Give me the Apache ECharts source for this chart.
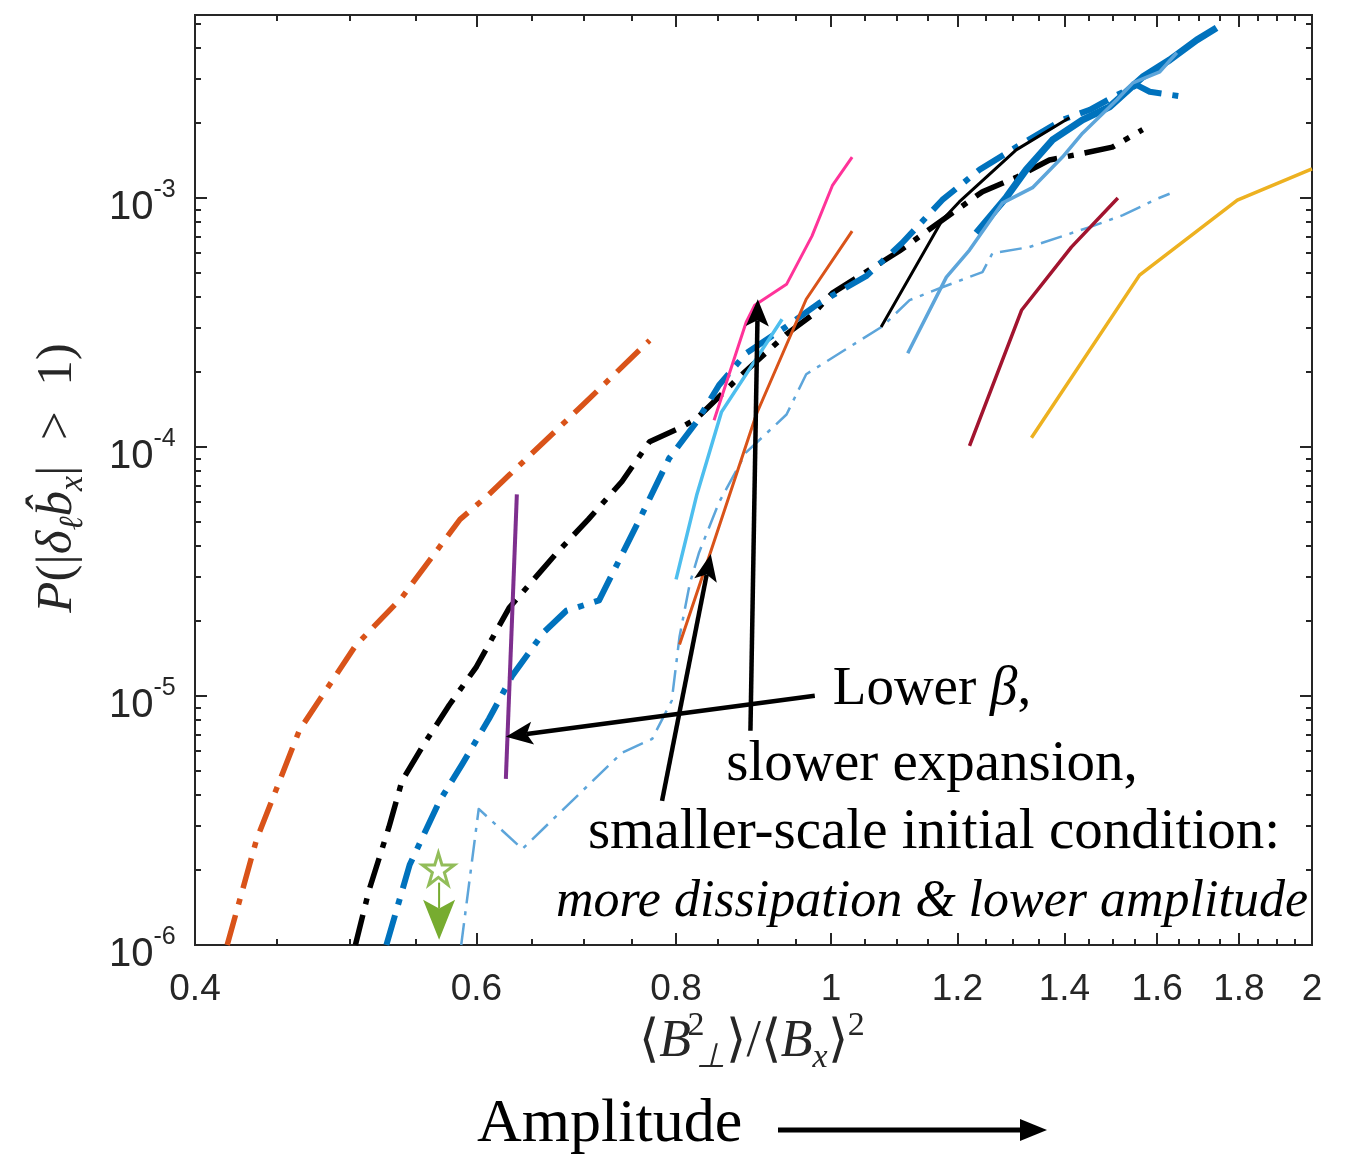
<!DOCTYPE html>
<html><head><meta charset="utf-8">
<script src="https://cdn.jsdelivr.net/npm/echarts@6/dist/echarts.min.js"></script>
<style>html,body{margin:0;padding:0;background:#fff}#c{width:1356px;height:1154px}</style>
</head><body><div id="c"></div>
<script>
// ---- tick values ----
const xMajorTicks = [0.4, 0.6, 0.8, 1, 1.2, 1.4, 1.6, 1.8, 2];
const xMinorTicks = [0.45, 0.5, 0.55, 0.65, 0.7, 0.75, 0.85, 0.9, 0.95, 1.05, 1.1, 1.15, 1.25, 1.3, 1.35, 1.45, 1.5, 1.55, 1.65, 1.7, 1.75, 1.85, 1.9, 1.95];
const yMajorTicks = [1e-6, 1e-5, 1e-4, 1e-3];
const yMinorTicks = [2e-6,3e-6,4e-6,5e-6,6e-6,7e-6,8e-6,9e-6, 2e-5,3e-5,4e-5,5e-5,6e-5,7e-5,8e-5,9e-5, 2e-4,3e-4,4e-4,5e-4,6e-4,7e-4,8e-4,9e-4, 2e-3,3e-3,4e-3,5e-3];

// ---- series values ----
const orangeDashDotX = [0.419, 0.437, 0.465, 0.504, 0.539, 0.586, 0.611, 0.629, 0.699, 0.770];
const orangeDashDotY = [1.0e-6, 2.64e-6, 7.3e-6, 1.59e-5, 2.49e-5, 5.12e-5, 6.45e-5, 7.71e-5, 1.47e-4, 2.68e-4];

const blackDashDotX = [0.504, 0.514, 0.529, 0.539, 0.555, 0.577, 0.600, 0.629, 0.673, 0.705, 0.740, 0.770, 0.804, 0.824, 0.877, 0.938, 0.973, 1.002, 1.042, 1.103, 1.181, 1.244, 1.306, 1.370, 1.437, 1.500, 1.567];
const blackDashDotY = [1.0e-6, 1.66e-6, 2.98e-6, 4.56e-6, 6.25e-6, 9.2e-6, 1.31e-5, 2.26e-5, 3.73e-5, 5.12e-5, 7.27e-5, 1.05e-4, 1.19e-4, 1.30e-4, 1.92e-4, 2.84e-4, 3.38e-4, 4.15e-4, 4.86e-4, 6.11e-4, 8.37e-4, 1.06e-3, 1.21e-3, 1.42e-3, 1.51e-3, 1.60e-3, 1.88e-3];

const blueDashDotX = [0.527, 0.545, 0.569, 0.588, 0.611, 0.632, 0.661, 0.683, 0.716, 0.759, 0.792, 0.824, 0.851, 0.885, 0.938, 0.983, 1.052, 1.108, 1.174, 1.239, 1.306, 1.396, 1.452, 1.510, 1.554, 1.583, 1.661];
const blueDashDotY = [1.0e-6, 2.10e-6, 3.79e-6, 5.34e-6, 8.1e-6, 1.21e-5, 1.80e-5, 2.20e-5, 2.42e-5, 5.12e-5, 9.0e-5, 1.26e-4, 1.77e-4, 2.38e-4, 3.05e-4, 3.78e-4, 4.85e-4, 6.59e-4, 9.82e-4, 1.30e-3, 1.60e-3, 2.06e-3, 2.26e-3, 2.59e-3, 2.84e-3, 2.67e-3, 2.55e-3];

const purpleX = [0.636, 0.626];
const purpleY = [6.45e-5, 4.65e-6];

const lightBlueDashDotX = [0.587, 0.602, 0.641, 0.740, 0.773, 0.795, 0.804, 0.816, 0.827, 0.851, 0.885, 0.938, 0.965, 1.077, 1.120, 1.174, 1.244, 1.262, 1.331, 1.452, 1.523, 1.599, 1.629];
const lightBlueDashDotY = [1.0e-6, 3.52e-6, 2.43e-6, 5.92e-6, 6.73e-6, 9.57e-6, 1.73e-5, 2.83e-5, 3.77e-5, 5.98e-5, 9.51e-5, 1.35e-4, 1.96e-4, 3.05e-4, 3.89e-4, 4.38e-4, 5.04e-4, 6.0e-4, 6.35e-4, 7.64e-4, 8.53e-4, 9.91e-4, 1.04e-3];

const cyanX = [0.800, 0.824, 0.854, 0.932];
const cyanY = [2.94e-5, 6.38e-5, 1.38e-4, 3.26e-4];

const pinkX = [0.845, 0.885, 0.896, 0.938, 0.973, 1.002, 1.031];
const pinkY = [1.28e-4, 3.17e-4, 3.71e-4, 4.50e-4, 7.03e-4, 1.12e-3, 1.46e-3];

const orangeSolidX = [0.804, 0.839, 0.898, 0.965, 1.031];
const orangeSolidY = [1.61e-5, 3.63e-5, 1.35e-4, 3.92e-4, 7.36e-4];

const blackSolidX = [1.075, 1.174, 1.203, 1.306, 1.410];
const blackSolidY = [3.03e-4, 8.15e-4, 9.64e-4, 1.56e-3, 2.10e-3];

const steelBlueX = [1.117, 1.181, 1.221, 1.280, 1.337, 1.396, 1.437, 1.510, 1.545, 1.606, 1.646];
const steelBlueY = [2.38e-4, 4.81e-4, 6.18e-4, 9.53e-4, 1.10e-3, 1.46e-3, 1.82e-3, 2.48e-3, 2.90e-3, 3.21e-3, 3.83e-3];

const blueSolidX = [1.233, 1.288, 1.325, 1.376, 1.437, 1.494, 1.567, 1.629, 1.694, 1.743];
const blueSolidY = [7.23e-4, 1.01e-3, 1.30e-3, 1.71e-3, 2.06e-3, 2.32e-3, 3.06e-3, 3.58e-3, 4.31e-3, 4.82e-3];

const darkRedX = [1.221, 1.316, 1.414, 1.512];
const darkRedY = [1.01e-4, 3.54e-4, 6.35e-4, 1.0e-3];

const yellowX = [1.335, 1.560, 1.796, 2.0];
const yellowY = [1.09e-4, 4.90e-4, 9.80e-4, 1.31e-3];

const starPoint = [0.568, 2.02e-6];
const starArrow = [[0.5686, 1.78e-6, 0.5686, 1.05e-6]];

// annotation arrows, in data units: [fromX, fromY, toX, toY]
const annotationArrows = [
  [0.977, 1.003e-5, 0.626, 6.86e-6],
  [0.784, 3.79e-6, 0.841, 3.72e-5],
  [0.8905, 7.25e-6, 0.900, 3.92e-4]
];

const annotationLines = ['Lower ', 'slower expansion,', 'smaller-scale initial condition:', 'more dissipation & lower amplitude'];

// ---- build chart ----
const AX = '#262626';
const chart = echarts.init(document.getElementById('c'), null, { renderer: 'canvas' });
function pts(xs, ys) { return xs.map((x, i) => [x, ys[i]]); }
function lineSeries(name, xs, ys, color, width, dash, z) {
  return { name, type: 'line', data: pts(xs, ys), showSymbol: false, symbol: 'none', silent: true,
    animation: false, z: z || 2, clip: true,
    lineStyle: { color, width, type: dash || 'solid', cap: 'butt', join: 'round' } };
}
function xAx(pos, ticks, len, labels) {
  return { type: 'log', logBase: 10, min: 0.4, max: 2, position: pos, gridIndex: 0,
    axisLine: { show: true, onZero: false, lineStyle: { color: AX, width: 2 } },
    axisTick: { show: true, inside: true, length: len, customValues: ticks, lineStyle: { color: AX, width: 2 } },
    axisLabel: labels ? { show: true, customValues: ticks, formatter: v => String(+(+v).toFixed(2)),
      fontSize: 37, fontFamily: 'Liberation Sans', color: AX, margin: 26 } : { show: false },
    splitLine: { show: false }, minorTick: { show: false }, minorSplitLine: { show: false } };
}
function yAx(pos, ticks, len, labels) {
  return { type: 'log', logBase: 10, min: 1e-6, max: 5.43e-3, position: pos, gridIndex: 0,
    axisLine: { show: true, onZero: false, lineStyle: { color: AX, width: 2 } },
    axisTick: { show: true, inside: true, length: len, customValues: ticks, lineStyle: { color: AX, width: 2 } },
    axisLabel: labels ? { show: true, customValues: ticks, margin: 19, color: AX, fontFamily: 'Liberation Sans',
      formatter: v => '{b|10}{s|' + Math.round(Math.log10(v)) + '}{sp| }',
      rich: {
        b: { fontSize: 40, height: 40, lineHeight: 40, verticalAlign: 'bottom', fontFamily: 'Liberation Sans', color: AX },
        s: { fontSize: 25, height: 44, lineHeight: 44, verticalAlign: 'top', fontFamily: 'Liberation Sans', color: AX },
        sp: { fontSize: 1, lineHeight: 60 }
      } } : { show: false },
    splitLine: { show: false }, minorTick: { show: false }, minorSplitLine: { show: false } };
}

function arrowShape(api, L, W, lw, color) {
  const p1 = api.coord([api.value(0), api.value(1)]);
  const p2 = api.coord([api.value(2), api.value(3)]);
  const dx = p2[0] - p1[0], dy = p2[1] - p1[1];
  const len = Math.hypot(dx, dy) || 1;
  const ux = dx / len, uy = dy / len, nx = -uy, ny = ux;
  const bx = p2[0] - ux * L, by = p2[1] - uy * L;
  const notch = [p2[0] - ux * L * 0.78, p2[1] - uy * L * 0.78];
  return { type: 'group', children: [
    { type: 'line', shape: { x1: p1[0], y1: p1[1], x2: notch[0], y2: notch[1] }, style: { stroke: color, lineWidth: lw } },
    { type: 'polygon', shape: { points: [p2, [bx + nx * W, by + ny * W], notch, [bx - nx * W, by - ny * W]] }, style: { fill: color } }
  ] };
}

const dd = [31, 11, 6, 11];
const option = {
  backgroundColor: '#ffffff',
  animation: false,
  grid: { left: 195, right: 44, top: 15, bottom: 209, outerBoundsMode: 'none', containLabel: false },
  xAxis: [xAx('bottom', xMajorTicks, 12, true), xAx('bottom', xMinorTicks, 6, false),
          xAx('top', xMajorTicks, 12, false), xAx('top', xMinorTicks, 6, false)],
  yAxis: [yAx('left', yMajorTicks, 12, true), yAx('left', yMinorTicks, 6, false),
          yAx('right', yMajorTicks, 12, false), yAx('right', yMinorTicks, 6, false)],
  series: [
    lineSeries('lightblue-dd', lightBlueDashDotX, lightBlueDashDotY, '#5DA5DA', 2.5, [22, 8, 4, 8]),
    lineSeries('yellow', yellowX, yellowY, '#EDB120', 3.5),
    lineSeries('darkred', darkRedX, darkRedY, '#A2142F', 3.5),
    lineSeries('orange-dd', orangeDashDotX, orangeDashDotY, '#D95319', 5.5, dd),
    lineSeries('black-dd', blackDashDotX, blackDashDotY, '#000000', 5.5, dd),
    lineSeries('blue-dd', blueDashDotX, blueDashDotY, '#0072BD', 6, dd),
    lineSeries('cyan', cyanX, cyanY, '#4DBEEE', 3.5),
    lineSeries('orange', orangeSolidX, orangeSolidY, '#D95319', 3),
    lineSeries('pink', pinkX, pinkY, '#FF3399', 3),
    lineSeries('blue', blueSolidX, blueSolidY, '#0072BD', 7),
    lineSeries('steelblue', steelBlueX, steelBlueY, '#5DA5DA', 3.5),
    lineSeries('black', blackSolidX, blackSolidY, '#000000', 3),
    lineSeries('purple', purpleX, purpleY, '#7E2F8E', 4),
    { type: 'scatter', data: [starPoint], symbol: 'path://M50,2 L61,37 L98,37 L68,59 L79,95 L50,73 L21,95 L32,59 L2,37 L39,37 Z',
      symbolSize: 32, silent: true, animation: false, z: 10,
      itemStyle: { color: '#ffffff', borderColor: '#77AC30', borderWidth: 3 } },
    { type: 'custom', coordinateSystem: 'cartesian2d', clip: false, silent: true, animation: false, z: 10,
      data: starArrow, encode: { x: [0, 2], y: [1, 3] },
      renderItem: (params, api) => arrowShape(api, 40, 16, 2, '#77AC30') },
    { type: 'custom', coordinateSystem: 'cartesian2d', clip: false, silent: true, animation: false, z: 11,
      data: annotationArrows, encode: { x: [0, 2], y: [1, 3] },
      renderItem: (params, api) => arrowShape(api, 27, 11.5, 4.5, '#000000') }
  ],
  graphic: [
    { type: 'text', x: 58, y: 478, rotation: Math.PI / 2, z: 20,
      style: { text: '{i|P}{r|(|}{i|δ}{sub|ℓ}{i|b\u0302}{sub|x}{r||\u2002>\u20021)}', align: 'center', verticalAlign: 'middle',
        textAlign: 'center', textVerticalAlign: 'middle', fill: AX,
        rich: {
          i: { fontSize: 51, fontStyle: 'italic', fontFamily: 'Liberation Serif', fill: AX, lineHeight: 64 },
          r: { fontSize: 51, fontFamily: 'Liberation Serif', fill: AX, lineHeight: 64 },
          sub: { fontSize: 34, fontStyle: 'italic', fontFamily: 'Liberation Serif', fill: AX, lineHeight: 34, verticalAlign: 'bottom' }
        } } },
    { type: 'text', x: 752, y: 1042, z: 20,
      style: { text: '{r|⟨}{i|B}{r|\u200a}{sup|2}{sub|⊥}{r|⟩/⟨}{i|B}{sub|x}{r|⟩}{sup2|2}', align: 'center', verticalAlign: 'middle',
        textAlign: 'center', textVerticalAlign: 'middle', fill: AX,
        rich: {
          i: { fontSize: 52, fontStyle: 'italic', fontFamily: 'Liberation Serif', fill: AX, lineHeight: 66 },
          r: { fontSize: 52, fontFamily: 'Liberation Serif', fill: AX, lineHeight: 66 },
          sup: { fontSize: 34, fontFamily: 'Liberation Serif', fill: AX, lineHeight: 34, verticalAlign: 'top', width: 1, align: 'left' },
          sup2: { fontSize: 34, fontFamily: 'Liberation Serif', fill: AX, lineHeight: 34, verticalAlign: 'top' },
          sub: { fontSize: 34, fontStyle: 'italic', fontFamily: 'Liberation Serif', fill: AX, lineHeight: 34, verticalAlign: 'bottom' }
        } } },
    { type: 'text', x: 477, y: 1125, z: 20,
      style: { text: 'Amplitude', font: '62px "Liberation Serif"', fill: '#000', align: 'left', verticalAlign: 'middle', textAlign: 'left', textVerticalAlign: 'middle' } },
    { type: 'line', z: 20, shape: { x1: 778, y1: 1130, x2: 1024, y2: 1130 }, style: { stroke: '#000', lineWidth: 5 } },
    { type: 'polygon', z: 20, shape: { points: [[1020, 1119], [1047, 1130], [1020, 1141]] }, style: { fill: '#000' } },
    { type: 'text', x: 932, y: 690, z: 20,
      style: { text: '{n|' + annotationLines[0] + '}{b|β}{n|,}', align: 'center', verticalAlign: 'middle', textAlign: 'center', textVerticalAlign: 'middle',
        rich: { n: { fontSize: 55, fontFamily: 'Liberation Serif', fill: '#000' }, b: { fontSize: 55, fontStyle: 'italic', fontFamily: 'Liberation Serif', fill: '#000' } } } },
    { type: 'text', x: 932, y: 765, z: 20,
      style: { text: annotationLines[1], font: '57px "Liberation Serif"', fill: '#000', align: 'center', verticalAlign: 'middle', textAlign: 'center', textVerticalAlign: 'middle' } },
    { type: 'text', x: 934, y: 833, z: 20,
      style: { text: annotationLines[2], font: '57px "Liberation Serif"', fill: '#000', align: 'center', verticalAlign: 'middle', textAlign: 'center', textVerticalAlign: 'middle' } },
    { type: 'text', x: 932, y: 902, z: 20,
      style: { text: annotationLines[3], font: 'italic 52px "Liberation Serif"', fill: '#000', align: 'center', verticalAlign: 'middle', textAlign: 'center', textVerticalAlign: 'middle' } }
  ]
};
chart.setOption(option);
</script>
</body></html>
